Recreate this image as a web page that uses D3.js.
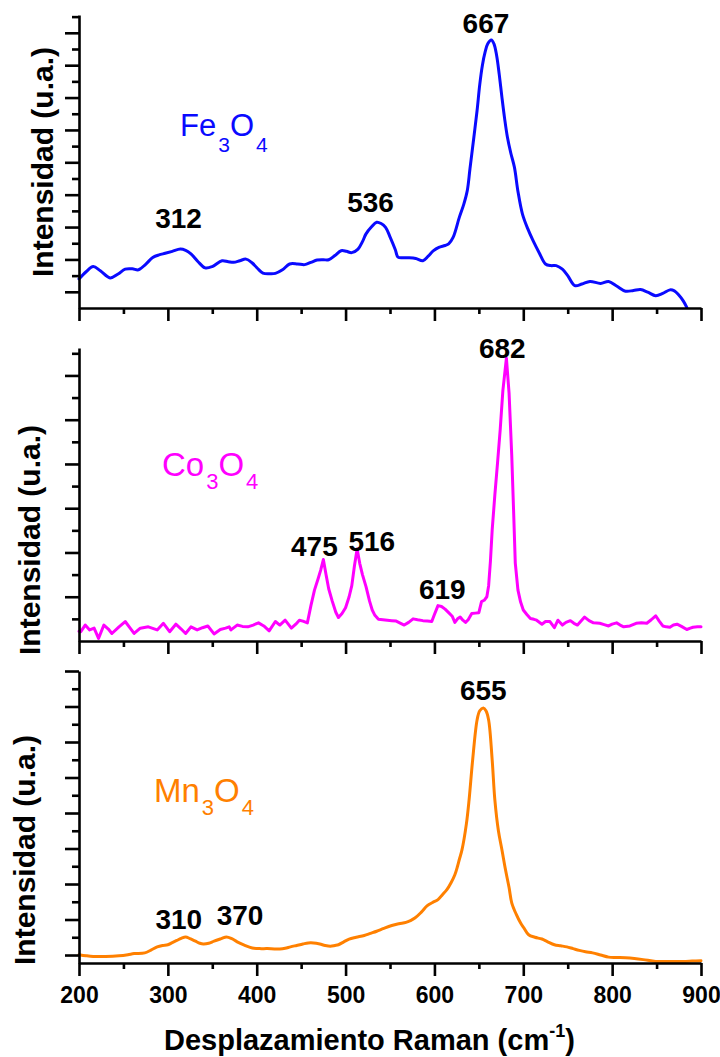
<!DOCTYPE html>
<html>
<head>
<meta charset="utf-8">
<script src="https://cdn.jsdelivr.net/npm/d3@7"></script>
<style>
  body { margin: 0; background: #fff; }
  text { font-family: "Liberation Sans", Arial, Helvetica, sans-serif; }
</style>
</head>
<body>
<svg id="chart" width="720" height="1057"></svg>
<script>
// ---- Raman spectra (shift in cm^-1, intensity in a.u.) ----
const fe3o4Shift = [200,208,216,224,235,244,252,260,267,275,283,290,297,305,314,320,326,334,342,350,361,368,374,381,388,395,401,407,414,421,429,437,446,454,461,468,475,481,488,495,501,507,514,519,523,529,535,540,545,550,556,559,565,571,579,587,593,599,605,612,616,621,628,633,637,640,644,648,651,654,657,660,664,667,670,673,676,679,682,686,690,694,699,705,711,718,725,731,737,744,750,758,766,775,787,796,805,815,824,832,840,849,857,865,870,875,880,884];
const fe3o4Intensity = [140,162,178,165,143,155,170,171,168,185,206,214,219,225,232,228,217,193,174,178,196,193,191,196,201,189,172,158,156,157,168,186,186,184,191,198,199,199,212,227,225,221,232,255,279,300,315,311,299,270,230,207,205,205,203,196,210,227,237,243,248,268,330,370,413,480,569,660,740,800,840,866,878,866,830,770,700,635,580,528,485,410,341,295,258,220,186,181,181,170,150,119,124,132,126,132,118,102,104,107,99,88,95,106,103,90,72,52];

const co3o4Shift = [200,202,207,212,217,222,228,233,237,245,252,258,262,269,278,288,295,302,309,315,320,326,333,339,345,352,359,365,369,371,378,384,390,396,402,408,414,421,426,432,439,444,448,452,457,461,465,469,472,475,478,481,485,489,492,496,500,504,507,510,513,516,519,523,527,530,533,537,542,547,552,557,562,566,571,576,581,587,592,597,600,604,608,612,616,620,623,626,629,632,635,638,642,646,650,653,656,659,661,663,665,668,671,674,677,681,684,687,689,691,694,697,700,704,708,712,715,721,725,730,735,739,744,748,753,757,761,765,769,774,779,786,791,796,800,805,809,813,820,827,833,839,844,849,853,857,861,865,869,873,878,884,888,891,896,900];
const co3o4Intensity = [22,21,36,25,29,6,36,27,17,32,44,28,17,29,32,25,40,21,38,27,17,32,25,30,34,16,26,29,32,25,36,33,32,36,41,34,23,44,36,47,29,38,47,45,41,80,115,140,160,184,150,118,90,65,53,62,75,100,125,170,208,175,150,123,90,70,58,49,48,47,46,45,40,36,42,50,48,46,45,44,60,80,78,72,64,56,42,50,54,47,42,48,62,63,64,89,92,100,125,180,251,330,402,477,565,639,560,420,300,176,115,88,70,60,51,49,47,38,44,44,30,47,36,42,46,40,36,45,54,46,41,40,37,34,38,41,36,32,34,40,41,40,48,57,45,34,32,31,36,38,33,26,29,31,32,32];

const mn3o4Shift = [200,208,216,230,245,255,262,274,281,288,294,300,305,310,315,320,325,331,336,340,346,352,360,366,372,378,386,395,403,412,420,426,432,438,445,452,458,464,471,477,483,488,492,498,504,512,521,528,535,543,552,560,568,573,578,585,592,598,604,609,614,619,623,626,628,631,636,639,643,648,651,655,658,661,665,668,672,676,680,684,687,692,697,701,706,713,721,727,735,742,749,756,763,770,778,787,796,805,815,825,835,849,860,870,880,890,900];
const mn3o4Intensity = [101,98,96,96,98,101,104,106,114,123,127,129,135,141,147,151,146,139,133,131,133,139,146,151,146,137,128,120,118,118,117,117,119,123,127,131,134,134,131,127,125,127,129,137,145,150,155,161,167,175,183,188,192,197,204,220,239,248,256,270,284,305,326,350,369,396,470,537,649,762,788,796,788,762,649,537,450,396,340,290,247,215,190,175,157,150,145,138,129,126,123,118,113,109,106,100,94,93,92,90,87,82,82,82,82,83,84];

// Peak assignments written above each spectrum (cm^-1)
const fe3o4Peaks = [312, 536, 667];
const co3o4Peaks = [475, 516, 619, 682];
const mn3o4Peaks = [310, 370, 655];

// Axis ticks
const xMajorTicks = [200, 300, 400, 500, 600, 700, 800, 900];
const xMinorTicks = [250, 350, 450, 550, 650, 750, 850];

// ---- layout ----
const svg = d3.select("#chart");
const x = d3.scaleLinear().domain([200, 900]).range([79, 701]);

const panels = [
  {
    shift: fe3o4Shift, intensity: fe3o4Intensity, peaks: fe3o4Peaks,
    color: "#0a0aff", domain: [50, 955], range: [308, 15],
    name: [["Fe", 0], ["3", 1], ["O", 0], ["4", 1]],
    nameAt: [180, 136], nameSize: 31, subSize: 21, subShift: 16,
    titleAt: [53, 277],
    labelAt: [[0, 296], [-7, 347], [-8, 898]],
    curve: d3.curveCatmullRom.alpha(0.5)
  },
  {
    shift: co3o4Shift, intensity: co3o4Intensity, peaks: co3o4Peaks,
    color: "#ff00ff", domain: [0, 662], range: [641, 348],
    name: [["Co", 0], ["3", 1], ["O", 0], ["4", 1]],
    nameAt: [162, 476], nameSize: 33, subSize: 22, subShift: 13,
    titleAt: [40, 655],
    labelAt: [[-9, 192], [12, 203], [-9, 94], [-5, 639]],
    curve: d3.curveLinear
  },
  {
    shift: mn3o4Shift, intensity: mn3o4Intensity, peaks: mn3o4Peaks,
    color: "#ff8000", domain: [77.5, 900], range: [963, 671],
    name: [["Mn", 0], ["3", 1], ["O", 0], ["4", 1]],
    nameAt: [154, 802], nameSize: 33, subSize: 22, subShift: 13,
    titleAt: [35, 965],
    labelAt: [[2, 172], [10, 184], [0, 818]],
    curve: d3.curveCatmullRom.alpha(0.5)
  }
];

panels.forEach((p, i) => {
  const y = d3.scaleLinear().domain(p.domain).range(p.range);
  const g = svg.append("g");

  // spectrum
  const line = d3.line()
    .x((d, k) => x(p.shift[k]))
    .y(d => y(d))
    .curve(p.curve);
  g.append("path")
    .datum(p.intensity)
    .attr("fill", "none")
    .attr("stroke", p.color)
    .attr("stroke-width", 3)
    .attr("stroke-linejoin", "round")
    .attr("stroke-linecap", "round")
    .attr("d", line);

  // y axis: majors every 100 a.u., minors every 50 a.u.
  const yMajor = d3.range(100, p.domain[1] + 1, 100).filter(v => v > p.domain[0]);
  const yMinor = d3.range(50, p.domain[1] + 1, 100).filter(v => v > p.domain[0] + 5);
  g.append("g").attr("transform", `translate(${x(200)},0)`)
    .call(d3.axisLeft(y).tickValues(yMajor).tickSize(14).tickSizeOuter(0).tickFormat(""));
  g.append("g").attr("transform", `translate(${x(200)},0)`)
    .call(d3.axisLeft(y).tickValues(yMinor).tickSize(7).tickSizeOuter(0).tickFormat(""))
    .select(".domain").remove();

  // x axis
  const xa = g.append("g").attr("transform", `translate(0,${p.range[0]})`)
    .call(d3.axisBottom(x).tickValues(xMajorTicks).tickSize(13).tickSizeOuter(0)
      .tickFormat(i === 2 ? d3.format("d") : ""));
  g.append("g").attr("transform", `translate(0,${p.range[0]})`)
    .call(d3.axisBottom(x).tickValues(xMinorTicks).tickSize(6).tickSizeOuter(0).tickFormat(""))
    .select(".domain").remove();

  g.selectAll(".domain, .tick line")
    .attr("stroke", "#000").attr("stroke-width", 2.6);
  xa.selectAll(".tick text")
    .attr("font-size", 23).attr("font-weight", "bold")
    .attr("fill", "#000").attr("y", 23).attr("dy", 0)
    .attr("transform", "translate(0,17)")
    .style("font-family", '"Liberation Sans", Arial, sans-serif');

  // y-axis title
  g.append("text")
    .attr("transform", `translate(${p.titleAt[0]},${p.titleAt[1]}) rotate(-90)`)
    .attr("font-size", 30).attr("font-weight", "bold")
    .text("Intensidad (u.a.)");

  // compound name with subscripts
  const nm = g.append("text")
    .attr("x", p.nameAt[0]).attr("y", p.nameAt[1])
    .attr("fill", p.color).attr("font-size", p.nameSize);
  let down = false;
  p.name.forEach(([t, sub]) => {
    const ts = nm.append("tspan").text(t);
    if (sub && !down) { ts.attr("dy", p.subShift).attr("font-size", p.subSize).attr("dx", 2); down = true; }
    else if (!sub && down) { ts.attr("dy", -p.subShift); down = false; }
  });

  // peak labels
  g.selectAll(".peak")
    .data(p.peaks)
    .join("text")
    .attr("class", "peak")
    .attr("x", (d, k) => x(d) + p.labelAt[k][0])
    .attr("y", (d, k) => y(p.labelAt[k][1]))
    .attr("text-anchor", "middle")
    .attr("font-size", 28).attr("font-weight", "bold")
    .text(d => d);
});

// x-axis title
const xt = svg.append("text")
  .attr("x", 164).attr("y", 1050)
  .attr("font-size", 29).attr("font-weight", "bold");
xt.append("tspan").text("Desplazamiento Raman (cm");
xt.append("tspan").attr("dy", -13).attr("font-size", 18).text("-1");
xt.append("tspan").attr("dy", 13).text(")");
</script>
</body>
</html>
